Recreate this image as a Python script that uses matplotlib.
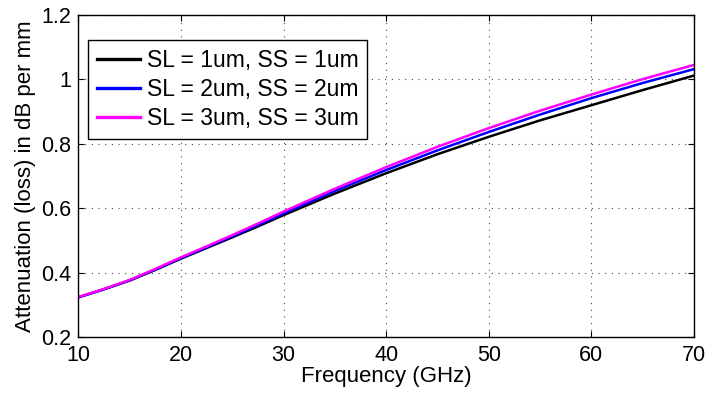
import numpy as np
import matplotlib
matplotlib.use("Agg")
import matplotlib.pyplot as plt

# Data
freq = [10, 12.5, 15, 17.5, 20, 22.5, 25, 27.5, 30, 35, 40, 45, 50, 55, 60, 65, 70]
loss_1um = [0.323, 0.348, 0.375, 0.408, 0.443, 0.476, 0.509, 0.543, 0.578, 0.645, 0.708, 0.767, 0.821, 0.872, 0.919, 0.966, 1.011]
loss_2um = [0.323, 0.348, 0.376, 0.409, 0.445, 0.478, 0.512, 0.547, 0.583, 0.653, 0.718, 0.779, 0.836, 0.890, 0.941, 0.988, 1.031]
loss_3um = [0.324, 0.349, 0.377, 0.411, 0.447, 0.481, 0.516, 0.552, 0.589, 0.660, 0.727, 0.790, 0.848, 0.902, 0.952, 1.000, 1.044]
labels = ["SL = 1um, SS = 1um", "SL = 2um, SS = 2um", "SL = 3um, SS = 3um"]
colors = ["black", "blue", "magenta"]

plt.rcParams["font.family"] = ["Liberation Sans", "DejaVu Sans"]

fig = plt.figure(figsize=(7.13, 3.96), dpi=100)
ax = fig.add_axes([0.1098, 0.149, 0.8635, 0.814])

for y, lab, c in zip([loss_1um, loss_2um, loss_3um], labels, colors):
    ax.plot(freq, y, color=c, linewidth=1.8, label=lab)

ax.set_xlim(10, 70)
ax.set_ylim(0.2, 1.2)
ax.set_xticks(np.arange(10, 71, 10))
ax.set_yticks([0.2, 0.4, 0.6, 0.8, 1.0, 1.2])
ax.set_yticklabels(["0.2", "0.4", "0.6", "0.8", "1", "1.2"])
ax.grid(True, linestyle=(0, (1, 5)), color="#444444", linewidth=0.8)
ax.tick_params(direction="in", top=True, right=True, labelsize=15.5, length=4)
ax.tick_params(axis="y", pad=5)
ax.tick_params(axis="x", pad=6)
for s in ax.spines.values():
    s.set_linewidth(1.0)

ax.set_xlabel("Frequency (GHz)", fontsize=16, labelpad=0)
ax.set_ylabel("Attenuation (loss) in dB per mm", fontsize=16, labelpad=4)

leg = ax.legend(loc="upper left", bbox_to_anchor=(0.016, 0.921), fontsize=16.5,
                fancybox=False, framealpha=1, edgecolor="black", borderpad=0.4,
                handlelength=1.85, handletextpad=0.3, labelspacing=0.26,
                borderaxespad=0)
leg.get_frame().set_linewidth(1.0)
for line in leg.get_lines():
    line.set_linewidth(2.4)

plt.savefig("out.png", dpi=100)
